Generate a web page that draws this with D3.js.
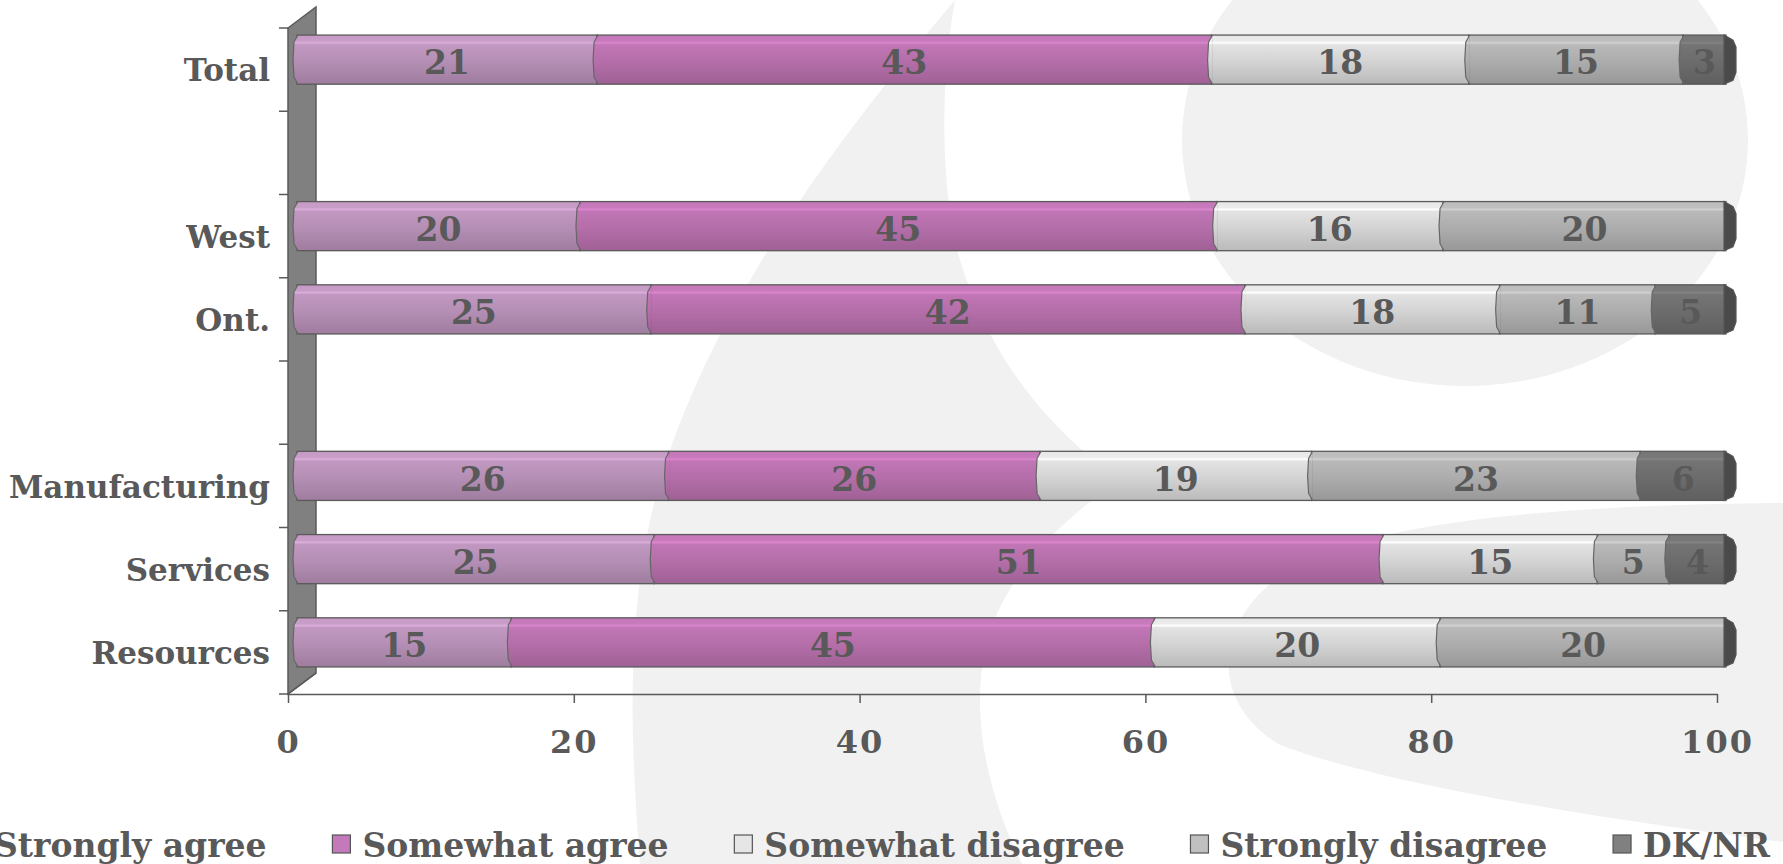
<!DOCTYPE html>
<html>
<head>
<meta charset="utf-8">
<script src="https://cdn.jsdelivr.net/npm/d3@7"></script>
<style>
  html, body { margin: 0; padding: 0; background: #fff; overflow: hidden; }
  svg { display: block; font-family: "DejaVu Serif", serif; font-weight: bold; }
</style>
</head>
<body>
<svg id="chart"></svg>
<script>
// rows top to bottom, blank slots keep the gaps between groups
const slots = ["Total", "gap1", "West", "Ont.", "gap2", "Manufacturing", "Services", "Resources"];
const groups = ["Total", "West", "Ont.", "Manufacturing", "Services", "Resources"];
const seriesNames = ["Strongly agree", "Somewhat agree", "Somewhat disagree", "Strongly disagree", "DK/NR"];

const stronglyAgree     = [21, 20, 25, 26, 25, 15];
const somewhatAgree     = [43, 45, 42, 26, 51, 45];
const somewhatDisagree  = [18, 16, 18, 19, 15, 20];
const stronglyDisagree  = [15, 20, 11, 23,  5, 20];
const dkNr              = [ 3,  0,  5,  6,  4,  0];

const xTicks = [0, 20, 40, 60, 80, 100];

const barColors    = ["#b48eb4", "#b46ea9", "#d3d3d3", "#acacac", "#6c6c6c"];
const legendColors = ["#cc99cc", "#c479bb", "#e6e6e6", "#c0c0c0", "#808080"];

const width = 1783, height = 864;
const textColor = "#595959";

const svg = d3.select("#chart").attr("width", width).attr("height", height);

// faint logo shapes in the background
const bg = svg.append("g").attr("fill", "#f1f1f1");
bg.append("path")
  .attr("d", "M955,0 C880,90 700,300 650,520 C625,640 632,760 640,864 L1022,864 C990,800 970,720 985,650 C1000,580 1060,520 1120,480 C1050,430 990,360 960,260 C940,190 940,80 955,0 Z");
bg.append("path")
  .attr("d", "M1783,503 C1600,505 1380,515 1290,570 C1215,615 1205,700 1280,745 C1400,790 1650,825 1783,842 Z");
bg.append("ellipse").attr("cx", 1465).attr("cy", 140).attr("rx", 283).attr("ry", 246);

// scales
const x = d3.scaleLinear().domain([0, 100]).range([288, 1717]);
const y = d3.scaleBand().domain(slots).range([28, 694]).paddingInner(0.41).paddingOuter(0.205);
const step = y.step();
const top0 = y(slots[0]) - y.paddingOuter() * step;
const bottom0 = top0 + slots.length * step;

// 3d wall depth and bar offset
const depth = [28, -21];
const barShift = [9, -10];

// back wall
svg.append("polygon")
  .attr("points", [[x(0), top0], [x(0) + depth[0], top0 + depth[1]],
                   [x(0) + depth[0], bottom0 + depth[1]], [x(0), bottom0]].join(" "))
  .attr("fill", "#808080")
  .attr("stroke", "#5a5a5a")
  .attr("stroke-width", 1.5);

// floor edge
svg.append("line")
  .attr("x1", x(0)).attr("y1", bottom0)
  .attr("x2", x(0) + depth[0]).attr("y2", bottom0 + depth[1])
  .attr("stroke", "#5a5a5a").attr("stroke-width", 1.5);

// y ticks at slot boundaries
svg.append("g").selectAll("line")
  .data(d3.range(slots.length + 1))
  .join("line")
  .attr("x1", x(0) - 9).attr("x2", x(0))
  .attr("y1", (i) => top0 + i * step).attr("y2", (i) => top0 + i * step)
  .attr("stroke", "#5a5a5a").attr("stroke-width", 1.5);

// y labels
svg.append("g").selectAll("text")
  .data(groups)
  .join("text")
  .attr("x", 270)
  .attr("y", (d) => y(d) + y.bandwidth() / 2)
  .attr("dy", "0.38em")
  .attr("text-anchor", "end")
  .attr("font-size", 31)
  .attr("fill", textColor)
  .text((d) => d);

// x axis
const xAxis = svg.append("g")
  .attr("transform", `translate(0,${bottom0})`)
  .call(d3.axisBottom(x).tickValues(xTicks).tickSize(9).tickSizeOuter(0).tickFormat(d3.format("d")));
xAxis.select(".domain").attr("stroke", "#5a5a5a").attr("stroke-width", 1.5);
xAxis.selectAll(".tick line").attr("stroke", "#5a5a5a").attr("stroke-width", 1.5);
xAxis.selectAll(".tick text")
  .attr("y", 47).attr("dy", "0.38em")
  .attr("font-family", "DejaVu Serif").attr("font-weight", "bold")
  .attr("font-size", 32).attr("letter-spacing", 2)
  .attr("fill", textColor);

// stacked data
const rows = groups.map((g, i) => ({
  group: g,
  "Strongly agree": stronglyAgree[i],
  "Somewhat agree": somewhatAgree[i],
  "Somewhat disagree": somewhatDisagree[i],
  "Strongly disagree": stronglyDisagree[i],
  "DK/NR": dkNr[i]
}));
const stacked = d3.stack().keys(seriesNames).offset(d3.stackOffsetExpand)(rows);

// gradients give the bars their rounded look
const defs = svg.append("defs");
seriesNames.forEach((s, i) => {
  const c = d3.color(barColors[i]);
  const g = defs.append("linearGradient")
    .attr("id", "grad" + i)
    .attr("x1", "0%").attr("y1", "0%").attr("x2", "0%").attr("y2", "100%");
  const stops = [
    [0, c.brighter(0.25)], [0.12, c.brighter(0.3)], [0.16, c.brighter(0.55)], [0.2, c.brighter(0.2)],
    [0.55, c], [1, c.darker(0.35)]
  ];
  stops.forEach(([o, col]) => g.append("stop").attr("offset", o).attr("stop-color", col.formatHex()));
});

const bh = y.bandwidth();
const bars = svg.append("g").attr("transform", `translate(${barShift[0]},${barShift[1]})`);

stacked.forEach((layer, si) => {
  const segs = layer.filter((d) => d[1] - d[0] > 0);
  const g = bars.append("g");
  g.selectAll("rect")
    .data(segs)
    .join("rect")
    .attr("x", (d) => x(d[0] * 100))
    .attr("y", (d) => y(d.data.group))
    .attr("width", (d) => x(d[1] * 100) - x(d[0] * 100))
    .attr("height", bh)
    .attr("fill", `url(#grad${si})`)
    .attr("stroke", "#5a5a5a")
    .attr("stroke-width", 1.3);
  // bevelled left edge of each segment
  g.selectAll("path")
    .data(segs)
    .join("path")
    .attr("d", (d) => {
      const x0 = x(d[0] * 100), t = y(d.data.group);
      return d3.line()([[x0 + 1, t], [x0 - 3, t + 7], [x0 - 4, t + bh / 2], [x0 - 3, t + bh - 7], [x0 + 1, t + bh]]);
    })
    .attr("fill", `url(#grad${si})`)
    .attr("stroke", "#666")
    .attr("stroke-width", 1.2);
});

// dark end caps on the right
bars.append("g").selectAll("path")
  .data(groups)
  .join("path")
  .attr("d", (g) => {
    const x1 = x(100), t = y(g);
    return d3.line()([[x1 - 2, t], [x1 + 7, t + 5], [x1 + 10, t + 12], [x1 + 10, t + bh - 12],
                      [x1 + 7, t + bh - 4], [x1 - 2, t + bh]]) + "Z";
  })
  .attr("fill", "#4a4a4a")
  .attr("stroke", "#555")
  .attr("stroke-width", 1.2);

// value labels
stacked.forEach((layer) => {
  bars.append("g").selectAll("text")
    .data(layer.filter((d) => d[1] - d[0] > 0))
    .join("text")
    .attr("x", (d) => (x(d[0] * 100) + x(d[1] * 100)) / 2)
    .attr("y", (d) => y(d.data.group) + bh / 2)
    .attr("dy", "0.45em")
    .attr("text-anchor", "middle")
    .attr("font-size", 33)
    .attr("fill", textColor)
    .text((d) => d.data[layer.key]);
});

// legend, spread between the left overflow and the right margin
const legend = svg.append("g");
const items = legend.selectAll("g")
  .data(seriesNames)
  .join("g");
items.append("rect")
  .attr("width", 18).attr("height", 18)
  .attr("y", 844 - 9)
  .attr("fill", (d, i) => legendColors[i])
  .attr("stroke", "#555").attr("stroke-width", 1.2);
items.append("text")
  .attr("x", 30)
  .attr("y", 844)
  .attr("dy", "0.38em")
  .attr("font-size", 33)
  .attr("fill", textColor)
  .text((d) => d);

const widths = [];
items.each(function () { widths.push(30 + d3.select(this).select("text").node().getComputedTextLength()); });
const startX = -6 - 30, endX = 1770;
const gap = (endX - startX - d3.sum(widths)) / (widths.length - 1);
let cursor = startX;
items.attr("transform", (d, i) => {
  const t = `translate(${cursor},0)`;
  cursor += widths[i] + gap;
  return t;
});
</script>
</body>
</html>
